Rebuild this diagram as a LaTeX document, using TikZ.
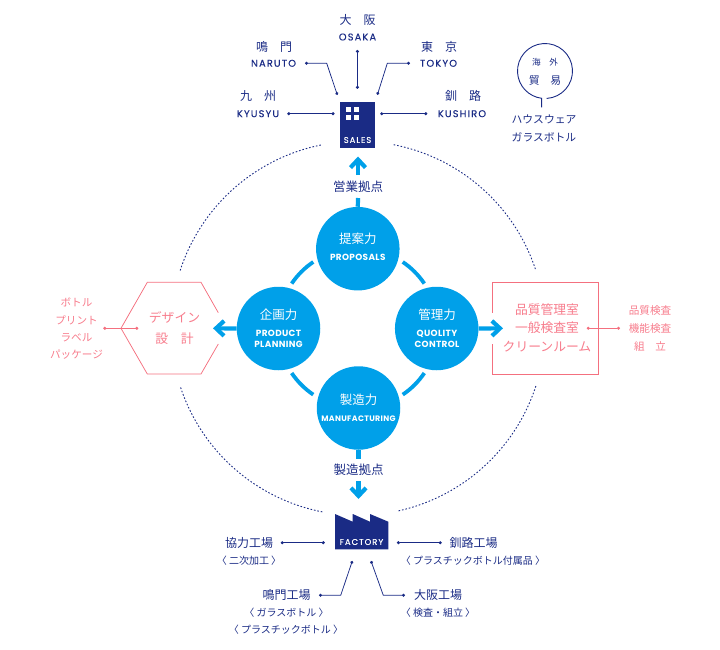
\documentclass[tikz,border=0pt]{standalone}
\usepackage{fontspec}
\setmainfont{Poppins}
\newfontfamily\jpfont{Noto Sans CJK JP}
\newfontfamily\enfont[LetterSpace=12,FakeBold=0.3]{Poppins}
\newfontfamily\enboldfont[LetterSpace=4]{Poppins}
\usetikzlibrary{positioning, arrows.meta, calc}
\definecolor{cNavy}{HTML}{1A2B85}
\definecolor{cSky}{HTML}{00A0E9}
\definecolor{cPink}{HTML}{F4707F}
\definecolor{cPinkText}{HTML}{F77C8C}
\tikzset{
  jpnavy/.style={font=\jpfont\fontsize{12}{14}\selectfont, text=cNavy, inner sep=0pt},
  jpsmall/.style={font=\jpfont\fontsize{10}{12}\selectfont, text=cNavy, inner sep=0pt},
  jpbase/.style={font=\jpfont\fontsize{12.5}{14}\selectfont, text=cNavy, inner sep=0pt},
  jptrade/.style={font=\jpfont\fontsize{10.8}{12}\selectfont, text=cNavy, inner sep=0pt},
  ennavy/.style={font=\enfont\fontsize{9.8}{11}\selectfont, text=cNavy, inner sep=0pt},
  jppink/.style={font=\jpfont\fontsize{10.6}{12}\selectfont, text=cPinkText, inner sep=0pt},
  jppinkbig/.style={font=\jpfont\fontsize{12.8}{14}\selectfont, text=cPinkText, inner sep=0pt},
  power/.style={circle, fill=cSky, minimum size=83.5pt, inner sep=0pt},
  powerjp/.style={font=\jpfont\fontsize{12.5}{14}\selectfont, text=white, inner sep=0pt},
  poweren/.style={font=\enboldfont\bfseries\fontsize{8.9}{10}\selectfont, text=white, inner sep=0pt},
  whiteen/.style={font=\enfont\fontsize{8.4}{10}\selectfont, text=white, inner sep=0pt},
  link/.style={draw=cNavy, line width=0.75pt, {Circle[length=3pt]}-{Circle[length=3pt]}},
  pinklink/.style={draw=cPink, line width=0.75pt, {Circle[length=3pt]}-{Circle[length=3pt]}},
  flow/.style={draw=cSky, line width=4.2pt, -{Straight Barb[length=8pt,width=15pt]}},
  stub/.style={draw=cSky, line width=4.2pt},
}
\begin{document}
\begin{tikzpicture}[x=1pt, y=-1pt]
  \useasboundingbox (0,0) rectangle (720,650);
  \coordinate (hub) at (358,328.3);

  % dotted ring
  \foreach \a/\b in {18/77.7,101/162,198/259,281/342}{
    \draw[cNavy, line width=0.9pt, dash pattern=on 1.6pt off 1.9pt]
      (hub) ++(\a:187) arc[start angle=\a, end angle=\b, radius=187];
  }
  % ring between the circles
  \foreach \a in {34,124,214,304}{
    \draw[cSky, line width=3.8pt] (hub) ++(\a:80) arc[start angle=\a, end angle=\a+22, radius=80];
  }

  % four circles
  \node[power] (proposals) at (357.8,248.7) {};
  \node[power] (planning) at (278.5,328.5) {};
  \node[power] (quality) at (436.7,328.5) {};
  \node[power] (manufacturing) at (358.5,408) {};
  \node[powerjp] (proposalsJp) at (357.8,238.5) {提案力};
  \node[poweren] (proposalsEn) at (357.8,257.5) {PROPOSALS};
  \node[powerjp] (planningJp) at (278.5,314.5) {企画力};
  \node[poweren] (planningEnA) at (278.5,333.5) {PRODUCT};
  \node[poweren] (planningEnB) at (278.5,344.5) {PLANNING};
  \node[powerjp] (qualityJp) at (437,314.5) {管理力};
  \node[poweren] (qualityEnA) at (437,333.5) {QUOLITY};
  \node[poweren] (qualityEnB) at (437,344.5) {CONTROL};
  \node[powerjp] (manufacturingJp) at (358.5,400) {製造力};
  \node[poweren, font=\enboldfont\bfseries\fontsize{7.9}{9}\selectfont] (manufacturingEn) at (358.5,419) {MANUFACTURING};

  % flows
  \node[jpbase] (salesBase) at (358,187) {営業拠点};
  \node[jpbase] (factoryBase) at (358.5,470) {製造拠点};
  \coordinate (upStart) at (358,175);
  \coordinate (upTip) at (358,156.5);
  \coordinate (upStub) at (358,198);
  \coordinate (downStart) at (358.5,481);
  \coordinate (downTip) at (358.5,499);
  \coordinate (downStub) at (358.5,459);
  \coordinate (leftTip) at (213,328.3);
  \coordinate (rightTip) at (503,328.3);
  \draw[stub] (proposals.north) -- (upStub);
  \draw[stub] (manufacturing.south) -- (downStub);
  \draw[flow] (upStart) -- (upTip);
  \draw[flow] (downStart) -- (downTip);
  \draw[flow] (planning.west) -- (leftTip);
  \draw[flow] (quality.east) -- (rightTip);

  % sales
  \node[fill=cNavy, minimum width=35.3pt, minimum height=46pt, inner sep=0pt] (sales) at (357.4,124.7) {};
  \node[whiteen] (salesText) at (357.5,140) {SALES};
  \foreach \wx in {345.7,354.2}{
    \foreach \wy in {107.3,115.3}{
      \fill[white] (\wx,\wy) rectangle ++(4.8,4.8);
    }
  }
  \foreach \name/\x/\y/\txt in {
    osakaJp/357.5/20/大　阪, narutoJp/274/47/鳴　門, tokyoJp/439/47/東　京,
    kyusyuJp/258/96/九　州, kushiroJp/463/96/釧　路}{
    \node[jpnavy] (\name) at (\x,\y) {\txt};
  }
  \foreach \name/\x/\y/\txt in {
    osakaEn/357.5/37/OSAKA, narutoEn/273.5/63.3/NARUTO, tokyoEn/438.5/63.3/TOKYO,
    kyusyuEn/258/113.7/KYUSYU, kushiroEn/462/113.7/KUSHIRO}{
    \node[ennavy] (\name) at (\x,\y) {\txt};
  }
  \coordinate (osakaEnd) at (357.4,50);
  \coordinate (narutoEnd) at (305,63.3);
  \coordinate (narutoBend) at (326.7,63.3);
  \coordinate (tokyoEnd) at (410,63.3);
  \coordinate (tokyoBend) at (387.3,63.3);
  \coordinate (kyusyuEnd) at (287.3,113.7);
  \coordinate (kushiroEnd) at (427.3,113.7);
  \draw[link, shorten >=12.7pt] (osakaEnd) -- (sales.north);
  \draw[link, shorten >=7pt] (narutoEnd) -- (narutoBend) -- (sales.north west);
  \draw[link, shorten >=7pt] (tokyoEnd) -- (tokyoBend) -- (sales.north east);
  \draw[link, shorten >=5pt] (kyusyuEnd) -- (kyusyuEnd -| sales.west);
  \draw[link, shorten >=5pt] (kushiroEnd) -- (kushiroEnd -| sales.east);

  % overseas
  \draw[cNavy, line width=0.9pt] (545,71) ++(86.5:27.5) arc[start angle=86.5, end angle=-263, radius=27.5] -- ++(0,9);
  \node[jpsmall, font=\jpfont\fontsize{8.6}{10}\selectfont] (overseas) at (545,62) {海　外};
  \node[jptrade] (trade) at (545,80) {貿　易};
  \node[jpsmall, font=\jpfont\fontsize{10.8}{12}\selectfont] (housewareText) at (544,119) {ハウスウェア};
  \node[jpsmall, font=\jpfont\fontsize{10.8}{12}\selectfont] (bottleText) at (544,137) {ガラスボトル};

  % design
  \draw[cPink, line width=0.75pt] (218.3,312.7) -- (201,282.3) -- (147.3,282.3) -- (121,328.3)
    -- (147.3,374) -- (201,374) -- (218.3,344);
  \node[jppinkbig] (design) at (174.5,317) {デザイン};
  \node[jppinkbig] (designB) at (174.5,339) {設　計};
  \foreach \name/\y/\txt in {bottle/302.5/ボトル, print/320/プリント, label/337.5/ラベル, package/354.5/パッケージ}{
    \node[jppink] (\name) at (76.5,\y) {\txt};
  }
  \coordinate (designL) at (103.3,328.3);
  \coordinate (designR) at (138.3,328.3);
  \draw[pinklink] (designL) -- (designR);

  % quality rooms
  \draw[cPink, line width=0.75pt] (492.3,312.7) -- (492.3,282.3) -- (598,282.3) -- (598,374.5)
    -- (492.3,374.5) -- (492.3,344);
  \node[jppinkbig] (roomA) at (547,310) {品質管理室};
  \node[jppinkbig] (roomB) at (547,328) {一般検査室};
  \node[jppinkbig] (roomC) at (547,347) {クリーンルーム};
  \foreach \name/\y/\txt in {checkA/310/品質検査, checkB/328/機能検査, checkC/346/組　立}{
    \node[jppink] (\name) at (650,\y) {\txt};
  }
  \coordinate (roomL) at (586.7,328.3);
  \coordinate (roomR) at (620,328.3);
  \draw[pinklink] (roomL) -- (roomR);

  % factory
  \fill[cNavy] (335,514) -- (352.7,521.7) -- (352.7,514) -- (370,521.7) -- (370,514) -- (388.3,521.7)
    -- (388.3,549.3) -- (335,549.3) -- cycle;
  \node[minimum width=53.3pt, minimum height=27.6pt, inner sep=0pt] (factory) at (361.65,535.5) {};
  \node[whiteen] (factoryText) at (361.5,542) {FACTORY};
  \node[jpnavy] (kyoryoku) at (249,542.5) {協力工場};
  \node[jpsmall] (kyoryokuSub) at (249,560.5) {〈 二次加工 〉};
  \node[jpnavy] (kushiroF) at (473.5,542.5) {釧路工場};
  \node[jpsmall] (kushiroSub) at (473,560.5) {〈 プラスチックボトル付属品 〉};
  \node[jpnavy] (narutoF) at (286.5,595) {鳴門工場};
  \node[jpsmall] (narutoSubA) at (286.5,612.5) {〈 ガラスボトル 〉};
  \node[jpsmall] (narutoSubB) at (286,630) {〈 プラスチックボトル 〉};
  \node[jpnavy] (osakaF) at (438,595) {大阪工場};
  \node[jpsmall] (osakaSub) at (438,612.5) {〈 検査・組立 〉};
  \coordinate (kyoryokuEnd) at (280.7,542.7);
  \coordinate (kushiroFEnd) at (441.7,542.7);
  \coordinate (narutoFEnd) at (319,595.3);
  \coordinate (narutoFBend) at (340.7,595.3);
  \coordinate (narutoFTop) at (352.3,561);
  \coordinate (osakaFEnd) at (405,595.3);
  \coordinate (osakaFBend) at (383.3,595.3);
  \coordinate (osakaFTop) at (371,561);
  \draw[link, shorten >=10pt] (kyoryokuEnd) -- (kyoryokuEnd -| factory.west);
  \draw[link, shorten >=8.4pt] (kushiroFEnd) -- (kushiroFEnd -| factory.east);
  \draw[link] (narutoFEnd) -- (narutoFBend) -- (narutoFTop);
  \draw[link] (osakaFEnd) -- (osakaFBend) -- (osakaFTop);
\end{tikzpicture}
\end{document}
